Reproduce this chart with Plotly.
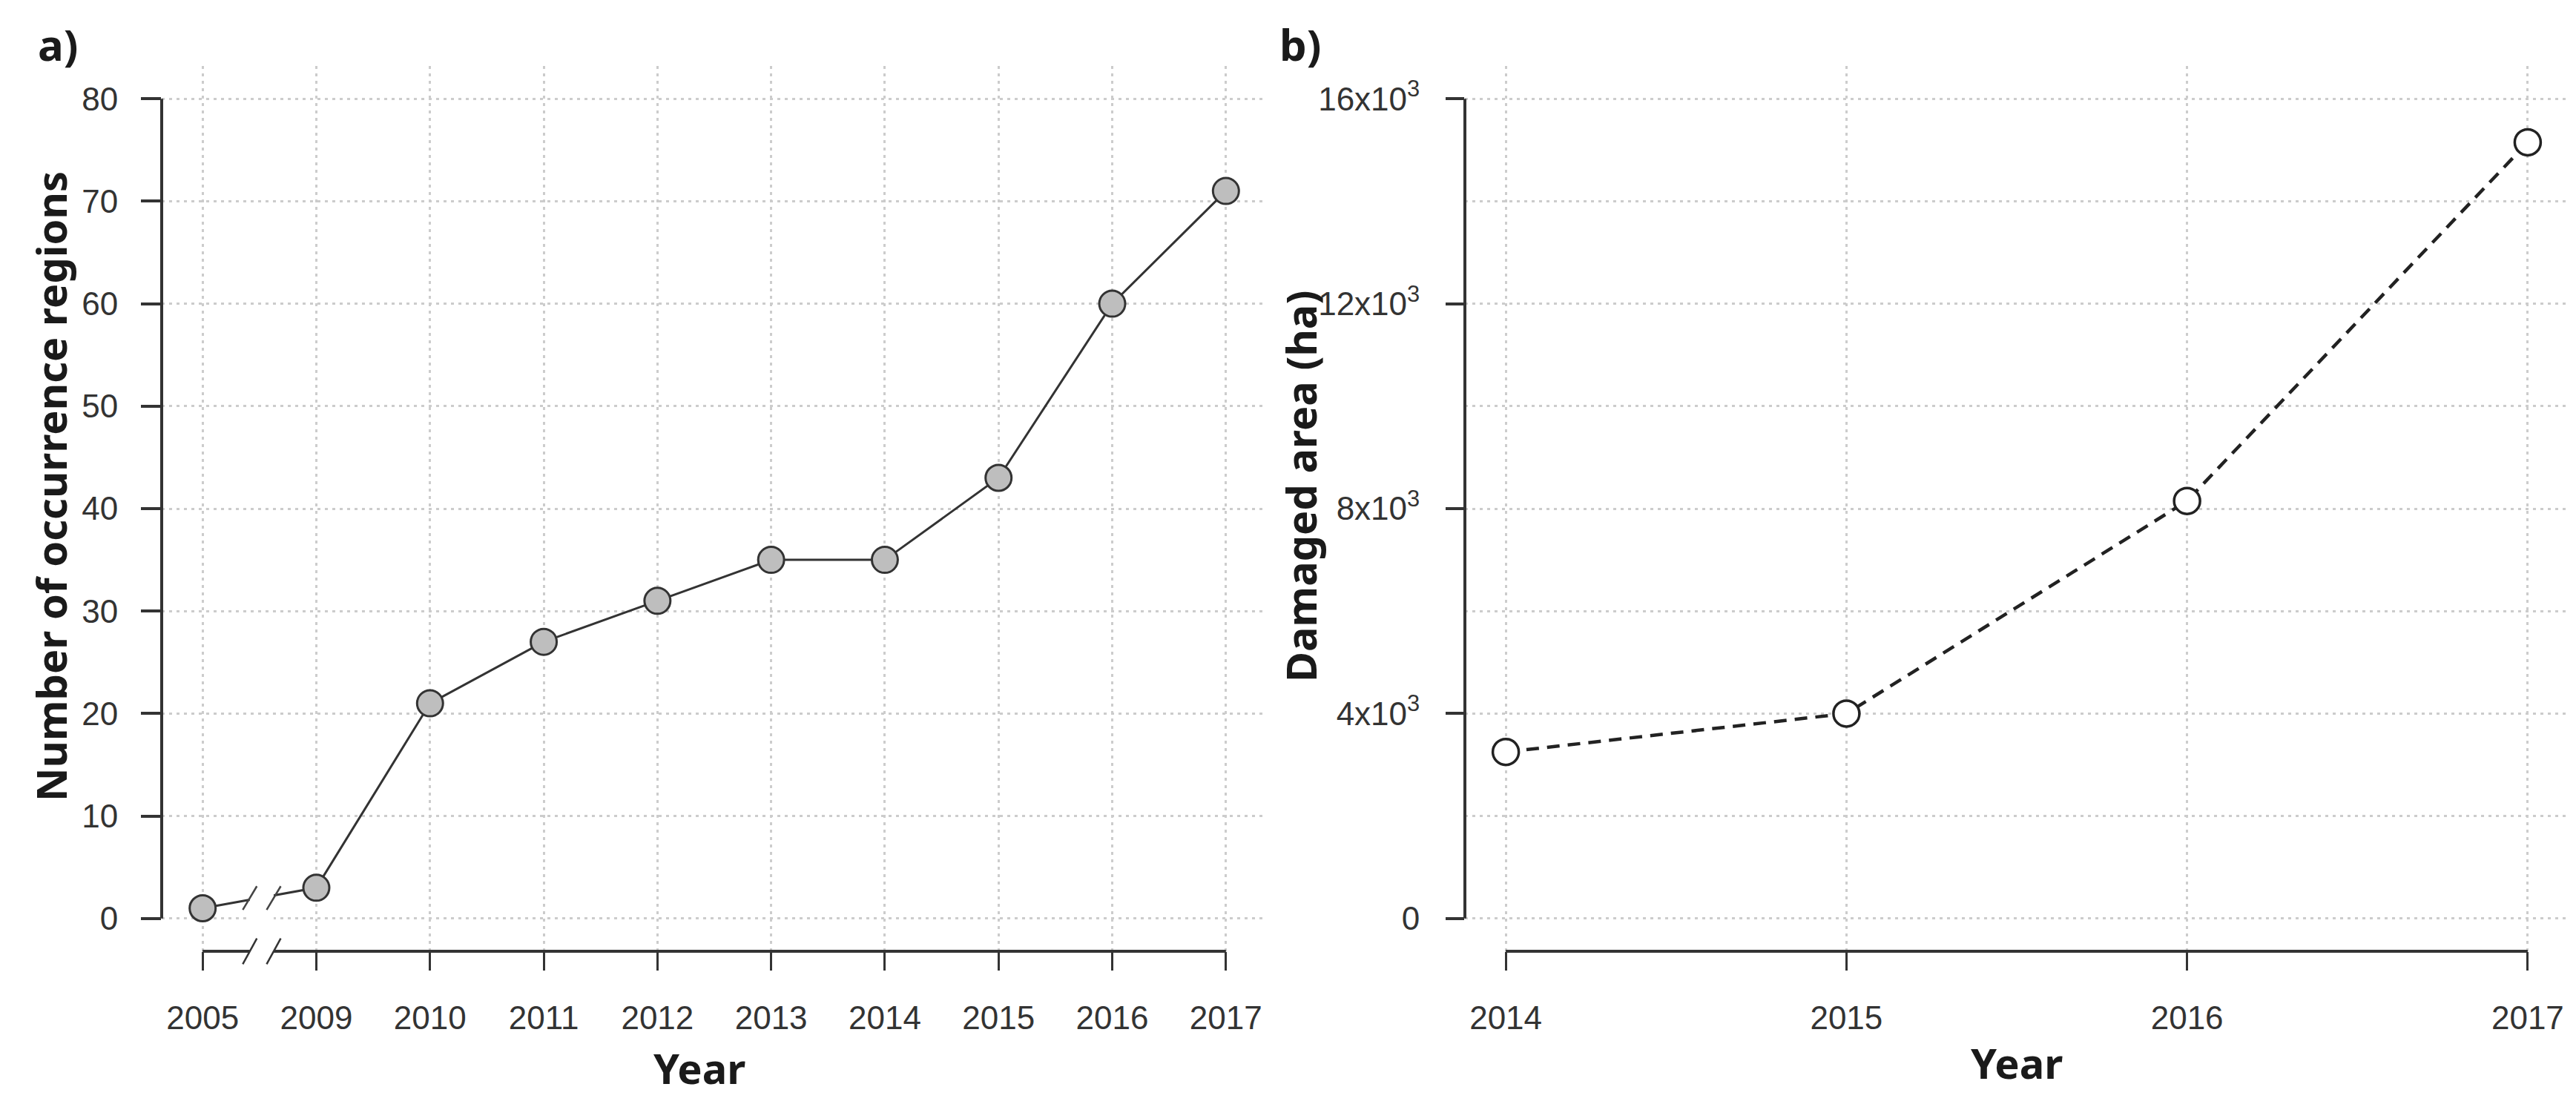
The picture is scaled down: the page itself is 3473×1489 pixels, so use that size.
import plotly.graph_objects as go

# ---------------- data ----------------
years_a = ["2005", "2009", "2010", "2011", "2012", "2013", "2014", "2015", "2016", "2017"]
regions = [1, 3, 21, 27, 31, 35, 35, 43, 60, 71]
y_ticks_a = [0, 10, 20, 30, 40, 50, 60, 70, 80]

years_b = [2014, 2015, 2016, 2017]
area_ha = [3250, 4000, 8150, 15150]
y_ticks_b = [0, 4000, 8000, 12000, 16000]
y_ticktext_b = ["0", "4x10<sup>3</sup>", "8x10<sup>3</sup>", "12x10<sup>3</sup>", "16x10<sup>3</sup>"]

# ---------------- layout helpers ----------------
W, H = 3473, 1489
def px(x):
    return x / W
def py(y):
    return 1 - y / H

idx_a = list(range(1, len(years_a) + 1))

def r_range(lo, hi):
    pad = 0.04 * (hi - lo)
    return [lo - pad, hi + pad]

TICK_FONT = dict(family="Liberation Sans, Arial, sans-serif", size=44, color="#333333")
BOLD_FONT = dict(family="Noto Sans, Open Sans, sans-serif", size=56, color="#1a1a1a")
GRID = dict(showgrid=True, gridcolor="#cccccc", gridwidth=2.5, griddash="4px,6px")
AXIS_COL = "#333333"

fig = go.Figure()

fig.add_trace(go.Scatter(
    x=idx_a, y=regions, mode="lines+markers",
    line=dict(color="#333333", width=3),
    marker=dict(size=35, color="#bebebe", line=dict(color="#333333", width=3)),
    xaxis="x", yaxis="y", showlegend=False, cliponaxis=False,
))

fig.add_trace(go.Scatter(
    x=years_b, y=area_ha, mode="lines+markers",
    line=dict(color="#222222", width=4.5, dash="17px,11px"),
    marker=dict(size=35, color="white", line=dict(color="#222222", width=3.5)),
    xaxis="x2", yaxis="y2", showlegend=False, cliponaxis=False,
))

ydom = [py(1275), py(81)]

fig.update_layout(
    width=W, height=H,
    margin=dict(l=0, r=0, t=0, b=0),
    paper_bgcolor="white", plot_bgcolor="white",
    xaxis=dict(
        domain=[px(210), px(1700)], range=r_range(idx_a[0], idx_a[-1]),
        tickmode="array", tickvals=idx_a, ticktext=years_a,
        ticks="outside", ticklen=25, tickwidth=3, tickcolor=AXIS_COL,
        tickfont=TICK_FONT, ticklabelstandoff=26,
        showline=False, zeroline=False, anchor="y", **GRID,
    ),
    yaxis=dict(
        domain=ydom, range=r_range(y_ticks_a[0], y_ticks_a[-1]),
        tickmode="array", tickvals=y_ticks_a,
        ticks="outside", ticklen=27, tickwidth=3.5, tickcolor=AXIS_COL,
        tickfont=TICK_FONT, ticklabelstandoff=22,
        showline=False, zeroline=False, anchor="x", **GRID,
    ),
    xaxis2=dict(
        domain=[px(1967), px(3455)], range=r_range(years_b[0], years_b[-1]),
        tickmode="array", tickvals=years_b, ticktext=[str(v) for v in years_b],
        ticks="outside", ticklen=25, tickwidth=3, tickcolor=AXIS_COL,
        tickfont=TICK_FONT, ticklabelstandoff=26,
        showline=False, zeroline=False, anchor="y2", **GRID,
    ),
    yaxis2=dict(
        domain=ydom, range=r_range(y_ticks_b[0], y_ticks_b[-1]),
        tickmode="array", tickvals=y_ticks_b, ticktext=y_ticktext_b,
        ticks="outside", ticklen=25, tickwidth=3.5, tickcolor=AXIS_COL,
        tickfont=TICK_FONT, ticklabelstandoff=26,
        showline=False, zeroline=False, anchor="x2", **GRID,
        minor=dict(tick0=0, dtick=2000, showgrid=True, gridcolor="#cccccc",
                   gridwidth=2.5, griddash="4px,6px", ticks=""),
    ),
)

# ---------------- R-style axis lines and axis break ----------------
BREAK_AT = 1.52      # between 2005 and 2009 on the index axis
GAP = 0.105
SL_DX = 0.062
shapes = []
line_style = dict(color=AXIS_COL, width=4)

# panel a, y axis line (from first to last tick)
shapes.append(dict(type="line", xref="x domain", yref="y", x0=0, x1=0,
                   y0=y_ticks_a[0], y1=y_ticks_a[-1], line=line_style))
# panel a, x axis line with break
shapes.append(dict(type="line", xref="x", yref="y domain", x0=idx_a[0], x1=BREAK_AT - GAP,
                   y0=0, y1=0, line=line_style))
shapes.append(dict(type="line", xref="x", yref="y domain", x0=BREAK_AT + GAP, x1=idx_a[-1],
                   y0=0, y1=0, line=line_style))
for c in (BREAK_AT - GAP, BREAK_AT + GAP):
    shapes.append(dict(type="line", xref="x", yref="y domain",
                       x0=c - SL_DX, x1=c + SL_DX, y0=-0.0145, y1=0.0145,
                       line=dict(color=AXIS_COL, width=2.5)))
# gap in the data line and in the zero grid line
y_mid = (regions[0] + regions[1]) / 2
shapes.append(dict(type="rect", xref="x", yref="y", x0=BREAK_AT - GAP, x1=BREAK_AT + GAP,
                   y0=-0.7, y1=y_mid + 0.9, fillcolor="white", line=dict(width=0),
                   layer="above"))
for c in (BREAK_AT - GAP, BREAK_AT + GAP):
    shapes.append(dict(type="line", xref="x", yref="y",
                       x0=c - SL_DX, x1=c + SL_DX, y0=y_mid - 1.15, y1=y_mid + 1.15,
                       line=dict(color="#444444", width=2.5), layer="above"))

# panel b axis lines
shapes.append(dict(type="line", xref="x2 domain", yref="y2", x0=0, x1=0,
                   y0=y_ticks_b[0], y1=y_ticks_b[-1], line=line_style))
shapes.append(dict(type="line", xref="x2", yref="y2 domain", x0=years_b[0], x1=years_b[-1],
                   y0=0, y1=0, line=line_style))

fig.update_layout(shapes=shapes)

# ---------------- text ----------------
def label(text, x, y, angle=0, size=56):
    return dict(text=text, x=px(x), y=py(y), xref="paper", yref="paper",
                xanchor="center", yanchor="middle", textangle=angle,
                showarrow=False, font=dict(BOLD_FONT, size=size))

ann = [
    label("<b>a)</b>", 70, 52, size=58),
    label("<b>b)</b>", 1745, 52, size=58),
    label("<b>Number of occurrence regions</b>", 60, 648, angle=-90),
    label("<b>Damaged area (ha)</b>", 1745, 648, angle=-90),
    label("<b>Year</b>", 935, 1432),
    label("<b>Year</b>", 2711, 1425),
]
fig.update_layout(annotations=ann)

fig.write_html("out.html")
